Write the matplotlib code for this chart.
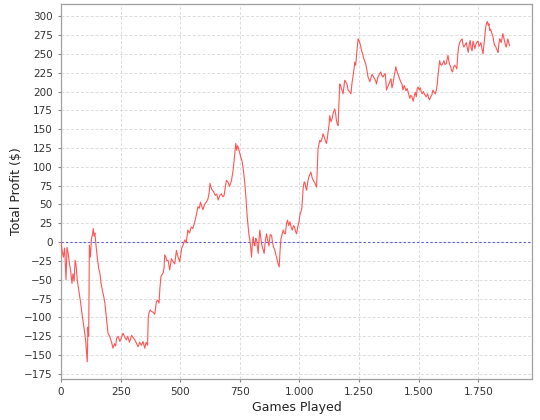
import matplotlib
matplotlib.use("Agg")
import matplotlib.pyplot as plt
from matplotlib.ticker import FuncFormatter, MultipleLocator

# games played (x) and running profit (y)
games = [
    0, 5, 10, 15, 21, 25, 30, 36, 41, 46,
    50, 55, 59, 63, 68, 75, 82, 90, 97, 103,
    108, 110, 113, 116, 119, 123, 128, 132, 135, 139,
    142, 147, 152, 158, 163, 168, 174, 179, 184, 190,
    197, 205, 212, 218, 224, 229, 233, 240, 247, 253,
    260, 267, 274, 280, 287, 296, 303, 310, 317, 323,
    330, 337, 344, 351, 357, 363, 366, 369, 374, 379,
    386, 393, 400, 405, 411, 415, 419, 424, 428, 432,
    435, 440, 444, 449, 456, 463, 470, 477, 484, 491,
    498, 506, 512, 519, 525, 532, 539, 546, 553, 561,
    567, 574, 580, 585, 590, 595, 602, 609, 616, 621,
    625, 630, 634, 640, 647, 653, 659, 666, 673, 679,
    684, 690, 694, 700, 707, 715, 722, 726, 729, 733,
    737, 740, 743, 748, 754, 759, 763, 767, 771, 775,
    778, 782, 785, 788, 792, 796, 799, 803, 806, 810,
    813, 817, 820, 824, 827, 831, 834, 838, 841, 846,
    852, 857, 862, 867, 872, 877, 883, 887, 890, 896,
    900, 904, 910, 915, 919, 922, 927, 932, 936, 941,
    946, 950, 955, 960, 965, 970, 975, 979, 984, 988,
    993, 998, 1003, 1006, 1010, 1016, 1020, 1023, 1027, 1030,
    1035, 1040, 1044, 1048, 1053, 1058, 1064, 1068, 1072, 1075,
    1078, 1082, 1085, 1090, 1095, 1099, 1104, 1108, 1113, 1117,
    1120, 1124, 1127, 1132, 1137, 1142, 1148, 1152, 1155, 1158,
    1162, 1165, 1169, 1173, 1176, 1180, 1183, 1187, 1190, 1194,
    1199, 1204, 1210, 1216, 1220, 1225, 1229, 1232, 1236, 1240,
    1246, 1250, 1253, 1257, 1260, 1265, 1270, 1274, 1278, 1283,
    1288, 1292, 1295, 1300, 1305, 1310, 1315, 1320, 1323, 1328,
    1332, 1337, 1341, 1345, 1350, 1355, 1360, 1365, 1370, 1375,
    1380, 1384, 1388, 1392, 1397, 1401, 1404, 1408, 1412, 1417,
    1421, 1425, 1430, 1434, 1439, 1443, 1447, 1452, 1457, 1463,
    1467, 1472, 1477, 1482, 1486, 1490, 1494, 1498, 1502, 1507,
    1511, 1515, 1520, 1525, 1532, 1538, 1542, 1546, 1550, 1555,
    1560, 1565, 1570, 1575, 1578, 1581, 1585, 1588, 1592, 1597,
    1602, 1606, 1610, 1616, 1620, 1623, 1627, 1630, 1634, 1638,
    1642, 1646, 1651, 1656, 1660, 1665, 1668, 1672, 1677, 1682,
    1686, 1690, 1695, 1700, 1704, 1708, 1712, 1716, 1720, 1724,
    1728, 1732, 1736, 1740, 1745, 1749, 1753, 1757, 1761, 1766,
    1770, 1774, 1777, 1781, 1784, 1788, 1792, 1795, 1798, 1802,
    1806, 1810, 1812, 1816, 1819, 1823, 1826, 1830, 1833, 1836,
    1840, 1843, 1846, 1850, 1853, 1857, 1860, 1864, 1867, 1870,
    1874, 1877, 1881,
]
profit = [
    0, -12, -20, -8, -50, -7, -15, -30, -40, -55,
    -42, -52, -24, -30, -50, -65, -80, -100, -115, -130,
    -150, -159, -113, -125, -4, -20, 5, 10, 18, 8,
    12, -5, -20, -35, -41, -55, -65, -72, -81, -100,
    -121, -126, -133, -141, -135, -138, -128, -125, -132, -127,
    -121, -126, -130, -125, -133, -124, -127, -130, -135, -139,
    -133, -137, -132, -141, -133, -137, -100, -94, -90, -92,
    -93, -96, -79, -77, -81, -60, -46, -43, -41, -35,
    -17, -20, -25, -24, -37, -22, -26, -29, -11, -20,
    -26, -8, -4, 3, -1, 16, 12, 20, 18, 27,
    35, 47, 45, 53, 48, 43, 50, 53, 57, 65,
    78, 72, 69, 67, 62, 64, 56, 62, 64, 60,
    62, 75, 82, 80, 74, 82, 96, 108, 118, 131,
    122, 128, 126, 120, 113, 108, 100, 90, 78, 62,
    47, 30, 20, 10, 3, -8, -20, 0, 7, -3,
    -5, 5, 3, -8, -15, 5, 16, 5, -2, -8,
    -15, 2, 11, 2, -5, 10, 9, 0, -5, -10,
    -15, -20, -28, -33, -10, 3, 10, 16, 12, 11,
    25, 29, 22, 27, 20, 16, 22, 20, 14, 11,
    20, 27, 38, 40, 45, 73, 80, 79, 72, 69,
    80, 87, 90, 93, 86, 82, 79, 76, 73, 100,
    124, 130, 135, 133, 138, 144, 140, 135, 131, 138,
    146, 155, 168, 160, 164, 172, 177, 170, 162, 158,
    155, 180, 210, 208, 204, 200, 197, 208, 215, 213,
    210, 202, 200, 197, 210, 221, 230, 239, 235, 250,
    270, 268, 265, 260, 255, 250, 244, 240, 237, 228,
    219, 216, 213, 218, 223, 220, 217, 214, 210, 218,
    221, 224, 226, 222, 219, 222, 224, 202, 206, 210,
    214, 217, 205, 210, 220, 226, 233, 228, 224, 220,
    216, 213, 210, 202, 208, 205, 201, 204, 198, 191,
    195, 193, 187, 195, 199, 193, 204, 206, 202, 205,
    199, 197, 200, 196, 193, 197, 191, 189, 193, 195,
    202, 199, 197, 203, 210, 221, 232, 241, 236, 235,
    238, 241, 236, 237, 244, 248, 240, 236, 233, 228,
    226, 232, 235, 233, 230, 252, 260, 265, 268, 270,
    262, 259, 262, 265, 258, 252, 262, 268, 258, 254,
    267, 262, 257, 263, 266, 267, 260, 262, 265, 256,
    250, 262, 272, 285, 290, 293, 288, 290, 281, 283,
    278, 275, 272, 265, 261, 260, 257, 255, 252, 262,
    270, 268, 265, 271, 277, 272, 267, 262, 259, 263,
    270, 266, 261,
]

fig = plt.figure(figsize=(5.4, 4.2), dpi=100)
ax = fig.add_axes([0.113, 0.098, 0.872, 0.892])

ax.plot(games, profit, color="#ff5555", lw=0.8, zorder=3)
ax.axhline(0, color="#5a5ad8", lw=0.8, ls=(0, (2, 2)), zorder=2)

ax.set_xlim(0, 1975)
ax.set_ylim(-181.6, 316)
ax.xaxis.set_major_locator(MultipleLocator(250))
ax.yaxis.set_major_locator(MultipleLocator(25))
ax.xaxis.set_major_formatter(FuncFormatter(lambda v, p: f"{int(v):,}".replace(",", ".")))

ax.grid(True, color="#dcdcdc", lw=0.7, ls=(0, (3, 2)), zorder=0)
for s in ax.spines.values():
    s.set_color("#a0a0a0")
    s.set_linewidth(0.9)
ax.tick_params(colors="#888888", labelcolor="#333333", labelsize=7.5,
               length=2.5, width=0.8)

ax.set_xlabel("Games Played", fontsize=9, color="#222222", labelpad=3)
ax.set_ylabel(r"Total Profit (\$)", fontsize=9, color="#222222", labelpad=1)

fig.savefig("out.png", dpi=100)
